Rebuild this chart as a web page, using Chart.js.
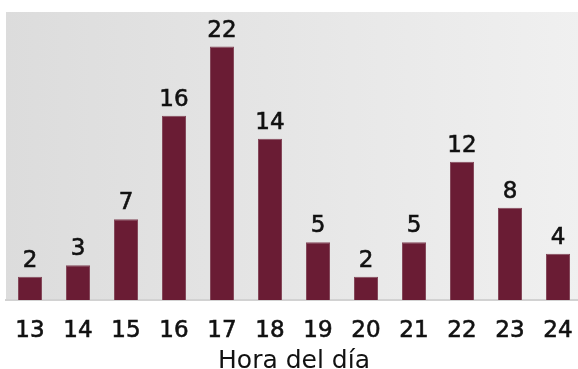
<!DOCTYPE html>
<html>
<head>
<meta charset="utf-8">
<script src="https://cdn.jsdelivr.net/npm/chart.js@4.4.1/dist/chart.umd.min.js"></script>
<style>
  html, body { margin: 0; padding: 0; background: #fff; overflow: hidden; }
  .chart-box { position: relative; width: 584px; height: 369px; }
</style>
</head>
<body>
<div class="chart-box">
  <canvas id="horaChart"></canvas>
</div>
<script>
// data
const horas = ['13', '14', '15', '16', '17', '18', '19', '20', '21', '22', '23', '24']
const casos = [2, 3, 7, 16, 22, 14, 5, 2, 5, 12, 8, 4]
const tituloX = 'Hora del día'

const fontFamily = "'DejaVu Sans', sans-serif"

// grey gradient behind the bars
const plotBackground = {
  id: 'plotBackground',
  beforeDraw(chart) {
    const { ctx, chartArea: a } = chart
    const g = ctx.createLinearGradient(a.left, 0, a.right, 0)
    g.addColorStop(0, '#dcdcdc')
    g.addColorStop(1, '#f0f0f0')
    ctx.save()
    ctx.fillStyle = g
    ctx.fillRect(a.left, a.top, a.right - a.left, a.bottom - a.top)
    ctx.restore()
  }
}

// numbers above each bar
const barValues = {
  id: 'barValues',
  afterDatasetsDraw(chart) {
    const { ctx } = chart
    const meta = chart.getDatasetMeta(0)
    ctx.save()
    ctx.font = '23px ' + fontFamily
    ctx.fillStyle = '#111'
    ctx.strokeStyle = '#111'
    ctx.lineWidth = 0.6
    ctx.textAlign = 'center'
    ctx.textBaseline = 'alphabetic'
    meta.data.forEach((bar, i) => {
      ctx.fillText(casos[i], bar.x, bar.y - 10)
      ctx.strokeText(casos[i], bar.x, bar.y - 10)
    })
    ctx.restore()
  }
}

const config = {
  type: 'bar',
  data: {
    labels: horas,
    datasets: [{
      data: casos,
      backgroundColor: '#6a1c34',
      borderColor: '#84485a',
      borderWidth: 1,
      categoryPercentage: 1,
      barPercentage: 0.5
    }]
  },
  options: {
    responsive: true,
    maintainAspectRatio: false,
    animation: false,
    layout: {
      padding: { top: 12, left: 6, right: 2, bottom: 0 }
    },
    scales: {
      x: {
        grid: { display: false },
        border: { display: true, color: '#d2d2d2', width: 2 },
        ticks: {
          font: { size: 23, family: fontFamily },
          color: '#111',
          textStrokeColor: '#111',
          textStrokeWidth: 0.6,
          padding: 9,
          maxRotation: 0
        },
        title: {
          display: true,
          text: tituloX,
          font: { size: 25, family: fontFamily, lineHeight: 0.4 },
          color: '#111',
          padding: { top: 2.5, bottom: 3 }
        }
      },
      y: {
        display: false,
        min: 0,
        max: 25
      }
    },
    plugins: {
      legend: { display: false },
      tooltip: { enabled: false }
    }
  },
  plugins: [plotBackground, barValues]
}

new Chart(document.querySelector('#horaChart'), config)
</script>
</body>
</html>
